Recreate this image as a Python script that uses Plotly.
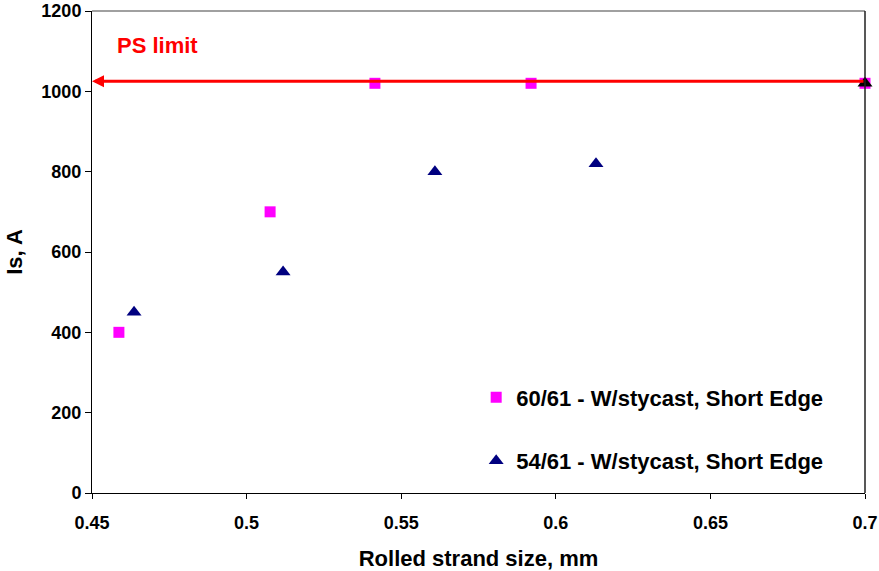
import plotly.graph_objects as go

# Data
x_6061 = [0.4587, 0.5076, 0.5415, 0.592, 0.7]
y_6061 = [400, 700, 1020, 1020, 1020]
x_5461 = [0.4636, 0.5118, 0.5609, 0.613]
y_5461 = [450, 550, 800, 820]
x_extra = [0.7]
y_extra = [1020]
ps_limit = 1025
name_6061 = "60/61 - W/stycast, Short Edge"
name_5461 = "54/61 - W/stycast, Short Edge"
x_ticks = [0.45, 0.5, 0.55, 0.6, 0.65, 0.7]
x_ticklabels = ["0.45", "0.5", "0.55", "0.6", "0.65", "0.7"]
y_ticks = [0, 200, 400, 600, 800, 1000, 1200]
y_ticklabels = ["0", "200", "400", "600", "800", "1000", "1200"]

FONT = "Liberation Sans, Arial, sans-serif"

fig = go.Figure()
fig.add_trace(go.Scatter(
    x=x_6061, y=y_6061, mode="markers", name="<b>" + name_6061 + "</b>", legendgroup="a",
    marker=dict(symbol="square", size=11, color="#FF00FF"), cliponaxis=False))
fig.add_trace(go.Scatter(
    x=x_5461, y=y_5461, mode="markers", name="<b>" + name_5461 + "</b>", legendgroup="b",
    marker=dict(symbol="triangle-up", size=13, color="#000080"), cliponaxis=False))
fig.add_trace(go.Scatter(
    x=x_extra, y=y_extra, mode="markers", showlegend=False,
    marker=dict(symbol="triangle-up", size=13, color="#000000"), cliponaxis=False))

# PS limit arrow
fig.add_annotation(x=0.45, y=ps_limit, ax=0.7, ay=ps_limit, xref="x", yref="y",
                   axref="x", ayref="y", text="", showarrow=True,
                   arrowhead=2, arrowsize=0.8, arrowwidth=3, arrowcolor="#FF0000")
fig.add_annotation(x=0.4575, y=1113, xref="x", yref="y", text="<b>PS limit</b>",
                   showarrow=False, xanchor="left", yanchor="middle",
                   font=dict(family=FONT, size=22, color="#FF0000"))

# frame top/right
fig.add_shape(type="line", xref="paper", yref="paper", x0=0, x1=1, y0=1, y1=1,
              line=dict(color="#808080", width=1.5))
fig.add_shape(type="line", xref="paper", yref="paper", x0=1, x1=1, y0=0, y1=1,
              line=dict(color="#202020", width=1.5))

fig.update_layout(
    width=879, height=571,
    margin=dict(l=92, r=14, t=11, b=78),
    plot_bgcolor="white", paper_bgcolor="white",
    font=dict(family=FONT, size=18, color="black"),
    showlegend=True,
    legend=dict(x=0.497, y=0.242, xanchor="left", yanchor="top",
                font=dict(family=FONT, size=22, color="black"),
                bgcolor="rgba(0,0,0,0)", traceorder="grouped", tracegroupgap=32,
                itemwidth=30),
    xaxis=dict(range=[0.45, 0.7], tickvals=x_ticks,
               ticktext=["<b>" + t + "</b>" for t in x_ticklabels],
               showgrid=False, automargin=False,
               zeroline=False, showline=True, linecolor="black", linewidth=1,
               ticks="outside", ticklen=5, tickcolor="black",
               ticklabelstandoff=8,
               tickfont=dict(family=FONT, size=18),
               title=dict(text="<b>Rolled strand size, mm</b>", standoff=24,
                          font=dict(family=FONT, size=22))),
    yaxis=dict(range=[0, 1200], tickvals=y_ticks,
               ticktext=["<b>" + t + "</b>" for t in y_ticklabels],
               showgrid=False, zeroline=False, automargin=False,
               showline=True, linecolor="black", linewidth=1,
               ticks="outside", ticklen=6, tickcolor="black",
               tickfont=dict(family=FONT, size=18),
               title=dict(text="<b>Is, A</b>", standoff=12,
                          font=dict(family=FONT, size=22))),
)

fig.write_html("out.html")
